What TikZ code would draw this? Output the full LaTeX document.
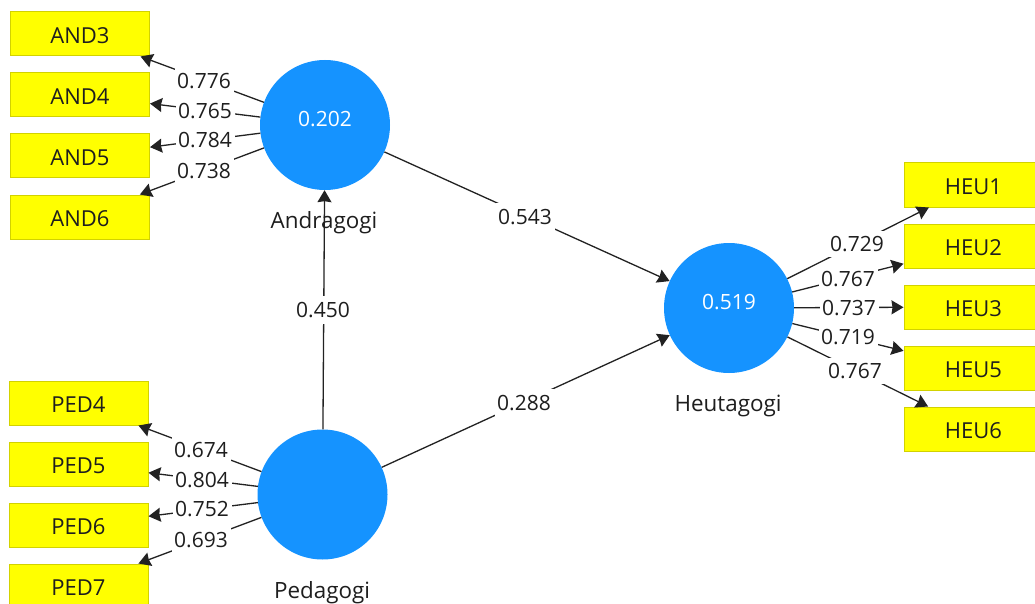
\documentclass[tikz,border=0pt]{standalone}
\usepackage{fontspec}
\setmainfont{Open Sans}
\usetikzlibrary{arrows.meta}
\definecolor{inkc}{HTML}{1E1E1E}
\definecolor{boxb}{HTML}{D2D200}
\definecolor{boxf}{HTML}{FFFF00}
\definecolor{lv}{HTML}{1593FF}
\definecolor{linec}{HTML}{222222}
\tikzset{
  x=1pt,y=-1pt,
  indbox/.style={draw=boxb,fill=boxf,line width=1pt,minimum width=139pt,minimum height=44pt,inner sep=0pt,text=inkc,text height=18.7pt,text depth=0pt,font=\fontsize{22}{26}\selectfont},
  latc/.style={circle,fill=lv,minimum size=130pt,inner sep=0pt},
  rsq/.style={text=white,inner sep=0pt,font=\fontsize{21}{25}\selectfont},
  nametxt/.style={text=inkc,inner sep=0pt,font=\fontsize{22.4}{26}\selectfont},
  wgt/.style={fill=white,text=inkc,minimum width=59pt,minimum height=26pt,inner sep=0pt,font=\fontsize{21}{25}\selectfont},
  pth/.style={fill=white,text=inkc,minimum width=59pt,minimum height=28pt,inner sep=0pt,font=\fontsize{21}{25}\selectfont},
  conn/.style={draw=linec,line width=1.3pt,-{Stealth[length=12pt,width=14pt,inset=1pt]}}
}
\begin{document}
\begin{tikzpicture}
\useasboundingbox (0,0) rectangle (1035,604);
\clip (0,0) rectangle (1035,604);
\fill[white] (0,0) rectangle (1035,604);
% indicators
\node[indbox] (and3) at (80,34) {AND3};
\node[indbox] (and4) at (80,95) {AND4};
\node[indbox] (and5) at (80,156) {AND5};
\node[indbox] (and6) at (80,217) {AND6};
\node[indbox] (ped4) at (78.5,403) {PED4};
\node[indbox] (ped5) at (78.5,464) {PED5};
\node[indbox] (ped6) at (78.5,525) {PED6};
\node[indbox] (ped7) at (78.5,586) {PED7};
\node[indbox] (heu1) at (973.5,185) {HEU1};
\node[indbox] (heu2) at (973.5,246) {HEU2};
\node[indbox] (heu3) at (973.5,307) {HEU3};
\node[indbox] (heu5) at (973.5,368) {HEU5};
\node[indbox] (heu6) at (973.5,429) {HEU6};
% latent variables
\node[latc] (an) at (325,125) {};
\node[latc] (he) at (729,308) {};
\node[latc] (pe) at (322.5,494.5) {};
\node[rsq] (ran) at (325,119) {0.202};
\node[rsq] (rhe) at (729,302) {0.519};
% connectors
\foreach \t in {and3,and4,and5,and6}{\draw[conn] (an) -- (\t);}
\foreach \t in {ped4,ped5,ped6,ped7}{\draw[conn] (pe) -- (\t);}
\foreach \t in {heu1,heu2,heu3,heu5,heu6}{\draw[conn] (he) -- (\t);}
\draw[conn] (an) -- (he);
\draw[conn] (pe) -- (an);
\draw[conn] (pe) -- (he);
% weights
\node[wgt] (w1) at (204,81) {0.776};
\node[wgt] (w2) at (205,111) {0.765};
\node[wgt] (w3) at (205,140) {0.784};
\node[wgt] (w4) at (204,171) {0.738};
\node[wgt] (w5) at (201,450) {0.674};
\node[wgt] (w6) at (202,480) {0.804};
\node[wgt] (w7) at (202,509) {0.752};
\node[wgt] (w8) at (201,540) {0.693};
\node[wgt] (w9) at (857,244) {0.729};
\node[wgt] (w10) at (848,279) {0.767};
\node[wgt] (w11) at (849,308) {0.737};
\node[wgt] (w12) at (848,337) {0.719};
\node[wgt] (w13) at (855,371) {0.767};
\node[pth] (p1) at (525,217) {0.543};
\node[pth] (p2) at (323,310) {0.450};
\node[pth] (p3) at (524,403) {0.288};
% names
\node[nametxt] (nan) at (324,223) {Andragogi};
\node[nametxt] (nhe) at (728,406) {Heutagogi};
\node[nametxt] (npe) at (322,593) {Pedagogi};
\end{tikzpicture}
\end{document}
